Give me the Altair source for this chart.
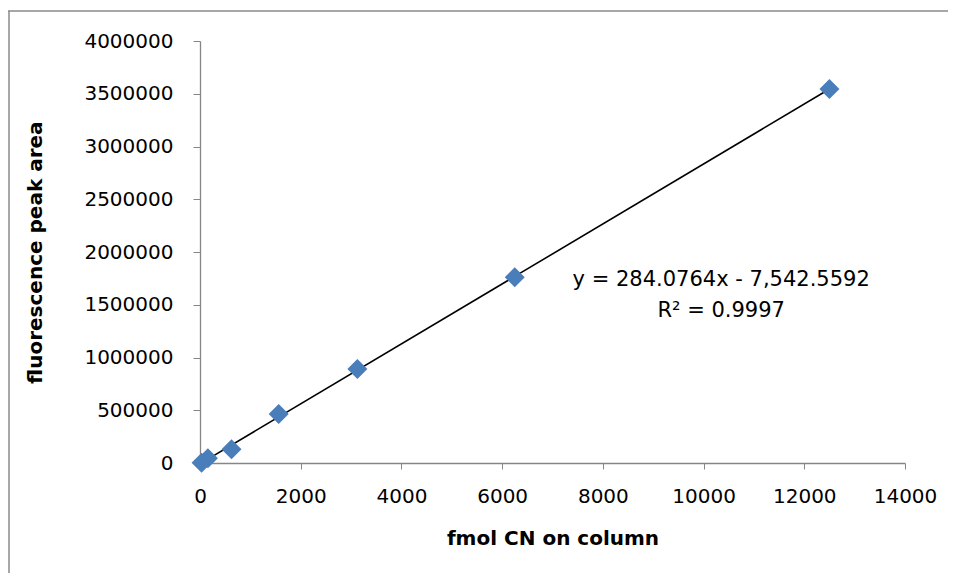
import altair as alt
import pandas as pd

# data
fmol = [31.25, 156.25, 625, 1562.5, 3125, 6250, 12500]
area = [3000, 45000, 130000, 465000, 890000, 1760000, 3545000]

eq_lines = ["y = 284.0764x - 7,542.5592", "R\u00b2 = 0.9997"]
eq_x = [10350, 10350]
eq_y = [1735000, 1440000]

x_ticks = list(range(0, 14001, 2000))
y_ticks = list(range(0, 4000001, 500000))

df = pd.DataFrame({"x": fmol, "y": area})
eq = pd.DataFrame({"t": eq_lines, "x": eq_x, "y": eq_y})

FONT = "DejaVu Sans"
AX = "#868686"

xs = alt.Scale(domain=[0, 14000], nice=False, zero=False)
ys = alt.Scale(domain=[0, 4000000], nice=False, zero=False)

xaxis = alt.Axis(values=x_ticks, grid=False, domainColor=AX, tickColor=AX,
                 tickSize=6, labelPadding=17, labelFontSize=20, labelFont=FONT,
                 labelColor="black", title="fmol CN on column", titleFont=FONT,
                 titleFontSize=20, titleFontWeight="bold", titleColor="black",
                 titleY=75, titleBaseline="middle", labelFlush=False,
                 domainWidth=1.3, format="d")
yaxis = alt.Axis(values=y_ticks, grid=False, domainColor=AX, tickColor=AX,
                 tickSize=7, labelPadding=20, labelFontSize=20, labelFont=FONT,
                 labelColor="black", title="fluorescence peak area", titleFont=FONT,
                 titleFontSize=20, titleFontWeight="bold", titleColor="black",
                 titleX=-165, titleY=211, titleAngle=-90, titleBaseline="middle",
                 labelFlush=False, domainWidth=1.3, format="d")

base = alt.Chart(df)

pts = base.mark_point(shape="diamond", filled=True, size=400, color="#4A7EBB",
                      opacity=1).encode(
    x=alt.X("x:Q", scale=xs, axis=xaxis),
    y=alt.Y("y:Q", scale=ys, axis=yaxis),
)

trend = base.transform_regression("x", "y", method="linear").mark_line(
    color="black", strokeWidth=1.6).encode(
    x=alt.X("x:Q", scale=xs),
    y=alt.Y("y:Q", scale=ys),
)

txt = alt.Chart(eq).mark_text(font=FONT, fontSize=21, color="black",
                              align="center", baseline="middle").encode(
    x=alt.X("x:Q", scale=xs),
    y=alt.Y("y:Q", scale=ys),
    text="t:N",
)

frame = pd.DataFrame({"k": [0]})
top_border = alt.Chart(frame).mark_rule(color="#8a8a8a", strokeWidth=1.5).encode(
    x=alt.value(-200), x2=alt.value(748), y=alt.value(-30))
left_border = alt.Chart(frame).mark_rule(color="#8a8a8a", strokeWidth=1.5).encode(
    x=alt.value(-191), y=alt.value(-30), y2=alt.value(540))

chart = alt.layer(top_border, left_border, trend, pts, txt).properties(
    width=705, height=422,
    padding={"left": 192, "top": 33, "right": 43, "bottom": 110},
    autosize=alt.AutoSizeParams(type="none"),
).configure_view(stroke=None)

chart.save("out.html", embed_options={"renderer": "svg", "actions": False})
